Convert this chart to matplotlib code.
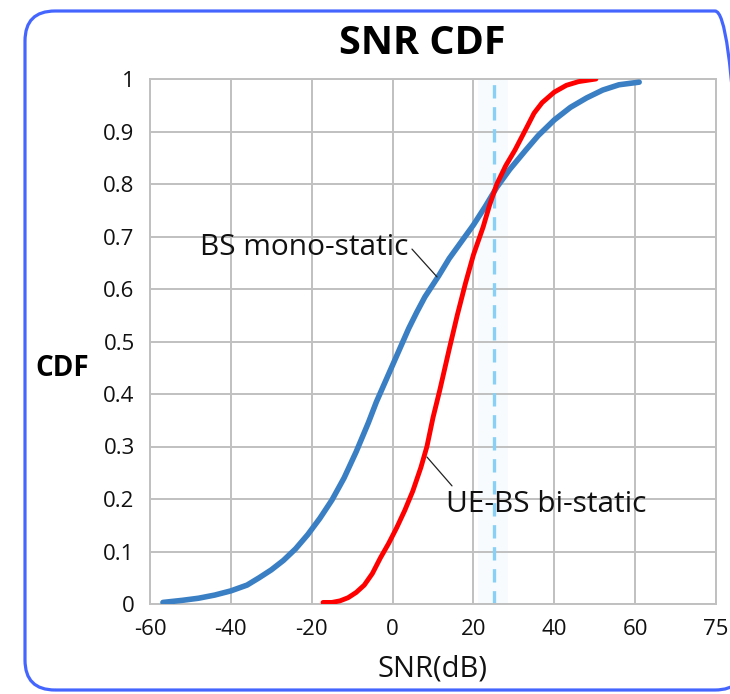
import matplotlib
matplotlib.use("Agg")
import matplotlib.pyplot as plt
from matplotlib.patches import FancyBboxPatch

plt.rcParams['font.family'] = ['Open Sans', 'DejaVu Sans']

# ---- data ----
bs_mono_x = [-56.8, -52, -48, -44, -40, -36, -33, -30, -27, -24, -21, -18, -15, -12, -9, -6, -4, -2, 0,
             2, 4, 6, 8, 11.4, 14, 17, 20, 23, 25.8, 29, 33, 36, 40, 44, 48, 52, 56, 61]
bs_mono_y = [0.003, 0.007, 0.011, 0.017, 0.025, 0.036, 0.05, 0.065, 0.083, 0.105, 0.132, 0.163, 0.198, 0.24,
             0.29, 0.345, 0.385, 0.42, 0.455, 0.49, 0.525, 0.556, 0.585, 0.625, 0.658, 0.69, 0.722, 0.758,
             0.794, 0.828, 0.865, 0.892, 0.922, 0.946, 0.964, 0.979, 0.989, 0.994]

ue_bs_x = [-17.2, -15, -13, -11, -9, -7, -5, -3, -1, 1, 3, 5, 7, 8.5, 10, 11.7, 14, 16, 18, 20, 22.4,
           24, 25.8, 28, 30.3, 33, 35, 37, 40, 43, 46, 50.3]
ue_bs_y = [0.003, 0.003, 0.006, 0.012, 0.022, 0.036, 0.058, 0.088, 0.115, 0.145, 0.178, 0.215, 0.26,
           0.30, 0.355, 0.408, 0.485, 0.55, 0.61, 0.665, 0.718, 0.76, 0.80, 0.835, 0.865, 0.905, 0.935,
           0.955, 0.975, 0.988, 0.995, 1.0]

threshold_x = 25.1

x_ticks = [-60, -40, -20, 0, 20, 40, 60, 80]
x_tick_labels = ['-60', '-40', '-20', '0', '20', '40', '60', '75']
y_ticks = [0, 0.1, 0.2, 0.3, 0.4, 0.5, 0.6, 0.7, 0.8, 0.9, 1.0]
y_tick_labels = ['0', '0.1', '0.2', '0.3', '0.4', '0.5', '0.6', '0.7', '0.8', '0.9', '1']

W, H = 730, 694
fig = plt.figure(figsize=(W / 100, H / 100), dpi=100)

# rounded border
border = FancyBboxPatch((25, H - 690), 720, 679,
                        boxstyle="round,pad=0,rounding_size=30",
                        transform=None, facecolor='none',
                        edgecolor='#4466ff', linewidth=2.3, zorder=0)
fig.patches.append(border)

ax = fig.add_axes([150 / W, (H - 604) / H, 566 / W, 525 / H])
ax.set_xlim(-60, 80)
ax.set_ylim(0, 1)
ax.set_xticks(x_ticks)
ax.set_xticklabels(x_tick_labels)
ax.set_yticks(y_ticks)
ax.set_yticklabels(y_tick_labels)
ax.tick_params(length=0, labelsize=16, colors='#111111')
ax.tick_params(axis='y', pad=11)
ax.tick_params(axis='x', pad=11)
ax.grid(True, color='#c0c0c0', linewidth=1.4, zorder=1)
ax.set_axisbelow(True)
for s in ax.spines.values():
    s.set_color('#c0c0c0')
    s.set_linewidth(1.4)

ax.axvspan(threshold_x - 4, threshold_x + 3.5, color='#f8fbfe', zorder=0.1, lw=0)
ax.axvline(threshold_x, color='#88d0f5', linewidth=2.4, linestyle=(0, (4, 2.6)), zorder=2)

ax.plot(bs_mono_x, bs_mono_y, color='#3a7fc3', linewidth=4.0, solid_capstyle='round', solid_joinstyle='round', zorder=3)
ax.plot(ue_bs_x, ue_bs_y, color='#ff0000', linewidth=3.5, solid_capstyle='round', solid_joinstyle='round', zorder=4)

# labels with leader lines
ax.text(-21.9, 0.68, 'BS mono-static', fontsize=21.5, ha='center', va='center', color='#111111', zorder=5)
ax.annotate('', xy=(11.0, 0.623), xytext=(4.8, 0.676),
            arrowprops=dict(arrowstyle='-', color='#222222', lw=0.9, shrinkA=0, shrinkB=0), zorder=5)
ax.text(37.9, 0.189, 'UE-BS bi-static', fontsize=21.5, ha='center', va='center', color='#111111', zorder=5)
ax.annotate('', xy=(8.5, 0.28), xytext=(14.7, 0.225),
            arrowprops=dict(arrowstyle='-', color='#222222', lw=0.9, shrinkA=0, shrinkB=0), zorder=5)

fig.text(422 / W, 1 - 43 / H, 'SNR CDF', fontsize=28.5, fontweight='bold', ha='center', va='center')
fig.text(62 / W, 1 - 369 / H, 'CDF', fontsize=20, fontweight='bold', ha='center', va='center')
fig.text(433 / W, 1 - 669 / H, 'SNR(dB)', fontsize=21, ha='center', va='center', color='#111111')

fig.savefig('out.png', dpi=100)
